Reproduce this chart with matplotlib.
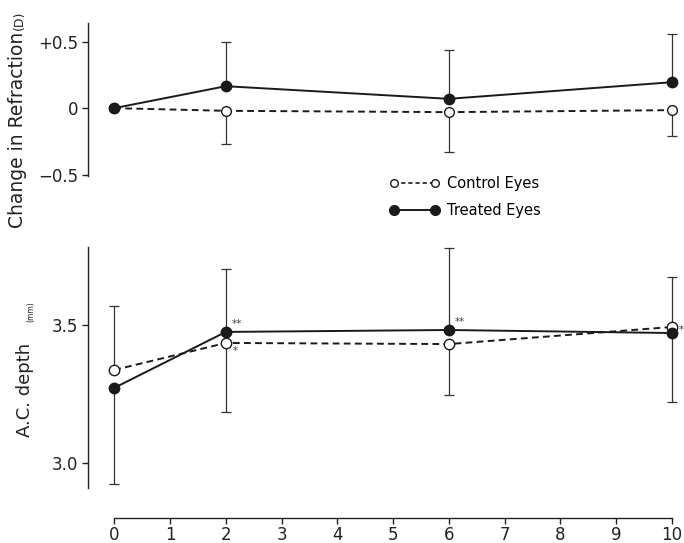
import numpy as np
import matplotlib.pyplot as plt
from matplotlib.lines import Line2D

plt.rcParams['font.family'] = ['DejaVu Sans']

# Giorni / mesi di osservazione
x = [0, 2, 6, 10]

# Variazione di refrazione (D)
refr_treated = [0.0, 0.165, 0.07, 0.195]
refr_treated_up = [0.0, 0.335, 0.37, 0.36]
refr_control = [0.0, -0.02, -0.03, -0.015]
refr_control_dn = [0.0, 0.25, 0.30, 0.195]

# Profondita' camera anteriore (mm)
ac_treated = [3.272, 3.475, 3.482, 3.471]
ac_control = [3.337, 3.435, 3.431, 3.493]
# barre: verso l'alto / verso il basso per ciascun gruppo
ac_treated_up = [0.0, 0.228, 0.297, 0.0]
ac_treated_dn = [0.348, 0.0, 0.0, 0.250]
ac_control_up = [0.232, 0.0, 0.0, 0.181]
ac_control_dn = [0.0, 0.250, 0.184, 0.0]

stars_treated = ['', '**', '**', '']
stars_control = ['', '*', '', '*']

W, H = 684, 543
fig = plt.figure(figsize=(W / 100, H / 100), dpi=100)

def fx(px):
    return px / W

def fy(py):
    return 1 - py / H

ax1 = fig.add_axes([fx(88), fy(176), fx(672) - fx(88), fy(23) - fy(176)])
ax2 = fig.add_axes([fx(88), fy(488), fx(672) - fx(88), fy(247) - fy(488)])

xl = (-0.47, 10.0)
lw = 1.4
dash = (0, (3.5, 2.2))
ink = '#1a1a1a'

# pannello superiore
ax1.errorbar(x, refr_treated, yerr=[np.zeros(4), refr_treated_up], fmt='none',
             ecolor='#333333', elinewidth=0.9, capsize=3.5, capthick=0.9, clip_on=False)
ax1.errorbar(x, refr_control, yerr=[refr_control_dn, np.zeros(4)], fmt='none',
             ecolor='#333333', elinewidth=0.9, capsize=3.5, capthick=0.9, clip_on=False)
ax1.plot(x, refr_control, color=ink, lw=lw, ls=dash, marker='o', ms=7,
         mfc='white', mec=ink, mew=1.0, clip_on=False, zorder=3)
ax1.plot(x, refr_treated, color=ink, lw=lw, marker='o', ms=7.5,
         mfc=ink, mec=ink, clip_on=False, zorder=4)
ax1.set_xlim(*xl)
ax1.set_ylim(-0.51, 0.64)
ax1.set_yticks([-0.5, 0, 0.5])
ax1.set_yticklabels(['\u22120.5', '0', '+0.5'])

# pannello inferiore
ax2.errorbar(x, ac_treated, yerr=[ac_treated_dn, ac_treated_up], fmt='none',
             ecolor='#333333', elinewidth=0.9, capsize=3.5, capthick=0.9, clip_on=False)
ax2.errorbar(x, ac_control, yerr=[ac_control_dn, ac_control_up], fmt='none',
             ecolor='#333333', elinewidth=0.9, capsize=3.5, capthick=0.9, clip_on=False)
ax2.plot(x, ac_control, color=ink, lw=lw, ls=dash, marker='o', ms=7.5,
         mfc='white', mec=ink, mew=1.0, clip_on=False, zorder=3)
ax2.plot(x, ac_treated, color=ink, lw=lw, marker='o', ms=7.5,
         mfc=ink, mec=ink, clip_on=False, zorder=4)
ax2.set_xlim(*xl)
ax2.set_ylim(2.909, 3.783)
ax2.set_yticks([3.0, 3.5])
ax2.set_yticklabels(['3.0', '3.5'])
ax2.set_xticks(range(11))

for xi, yi, s in zip(x, ac_treated, stars_treated):
    if s:
        ax2.annotate(s, (xi, yi), xytext=(4, 2), textcoords='offset points',
                     fontsize=7.5, color='#444444', ha='left', va='bottom')
for xi, yi, s in zip(x, ac_control, stars_control):
    if s:
        if xi == 10:
            ax2.annotate(s, (xi, yi), xytext=(5, -2), textcoords='offset points',
                         fontsize=7.5, color='#444444', ha='left', va='center',
                         annotation_clip=False)
        else:
            ax2.annotate(s, (xi, yi), xytext=(5, -2), textcoords='offset points',
                         fontsize=7.5, color='#444444', ha='left', va='top')

for ax in (ax1, ax2):
    for s in ('top', 'right'):
        ax.spines[s].set_visible(False)
    ax.spines['left'].set_linewidth(1.0)
    ax.spines['left'].set_color('#222222')
    ax.tick_params(axis='y', direction='out', length=4, width=1.0,
                   labelsize=12, pad=3, colors='#222222')
ax1.spines['bottom'].set_visible(False)
ax1.tick_params(axis='x', bottom=False, labelbottom=False)
ax2.spines['bottom'].set_position(('outward', 21.6))
ax2.spines['bottom'].set_bounds(0, 10)
ax2.spines['bottom'].set_linewidth(1.0)
ax2.spines['bottom'].set_color('#222222')
ax2.tick_params(axis='x', direction='out', length=4, width=1.0,
                labelsize=12, pad=2, colors='#222222')

# etichette assi
fig.text(fx(18), fy(32), 'Change in Refraction', rotation=90, ha='center', va='top',
         fontsize=13.5, color='#222222')
fig.text(fx(19), fy(30), '(D)', rotation=90, ha='center', va='bottom',
         fontsize=9, color='#222222')
fig.text(fx(25), fy(437), 'A.C. depth', rotation=90, ha='center', va='bottom',
         fontsize=13, color='#222222')
fig.text(fx(31), fy(322), '(mm)', rotation=90, ha='center', va='bottom',
         fontsize=5.5, color='#222222')

# legenda
h_ctrl = Line2D([], [], color=ink, lw=1.2, ls=(0, (2.5, 1.8)), marker='o',
                ms=5.5, mfc='white', mec=ink)
h_trt = Line2D([], [], color=ink, lw=1.4, marker='o', ms=7,
               mfc=ink, mec=ink)
fig.legend([h_ctrl, h_trt], ['Control Eyes', 'Treated Eyes'], loc='upper left',
           bbox_to_anchor=(fx(390), fy(176)), frameon=False, numpoints=2,
           handlelength=3.4, handletextpad=0.5, fontsize=10.5, labelspacing=0.85,
           borderaxespad=0, borderpad=0)

fig.savefig('out.png', dpi=100)
